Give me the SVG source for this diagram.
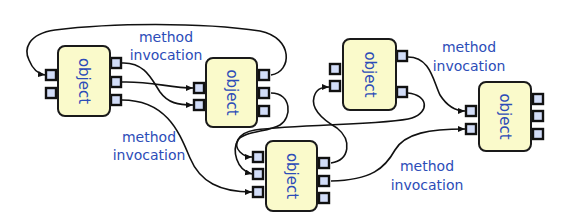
<svg xmlns="http://www.w3.org/2000/svg" width="562" height="219" viewBox="0 0 562 219">
<style>
.body{fill:#fafacb;stroke:#1a1a1a;stroke-width:2}
.port{fill:#d2ddf8;stroke:#111;stroke-width:2.4}
.lbl{font-family:"DejaVu Sans",sans-serif;font-size:15px;fill:#2c4cb8;text-anchor:middle;dominant-baseline:central}
.cap{font-family:"DejaVu Sans",sans-serif;font-size:14px;fill:#2c4cb8;text-anchor:middle}
.conn path{fill:none;stroke:#111;stroke-width:1.6;marker-end:url(#arr)}
</style>
<defs>
<marker id="arr" markerUnits="userSpaceOnUse" markerWidth="8" markerHeight="7" refX="7" refY="3" orient="auto">
<path d="M0,0 L7,3 L0,6 z" fill="#111"/>
</marker>
</defs>
<rect width="562" height="219" fill="#fff"/>
<g id="connectors" class="conn">
<path d="M271,75 C292,72 294,38 260,31 C200,22 110,23 55,30 C27,34 24,50 29,60 C33,70 38,74 45,75"/>
<path d="M122,63 C145,62 152,80 160,92 C168,103 178,105 193,105"/>
<path d="M122,82 C150,81 170,88 193,88"/>
<path d="M122,100 C168,100 180,135 190,158 C200,182 220,192 252,192"/>
<path d="M271,93 C292,93 292,118 280,125 C268,132 245,131 238,140 C232,150 236,170 252,174"/>
<path d="M408,93 C428,95 430,112 412,118 C390,125 300,124 255,130 C237,133 233,145 240,152 C243,155 247,157 252,157"/>
<path d="M331,163 C350,160 352,140 337,128 C320,118 311,108 314,97 C316,90 320,87 329,87"/>
<path d="M331,181 C372,180 385,168 395,150 C405,133 430,129 465,129"/>
<path d="M408,57 C430,57 433,80 440,95 C447,106 455,111 465,111"/>
</g>
<g id="labels">
<text class="cap" x="166" y="42">method</text>
<text class="cap" x="166" y="60">invocation</text>
<text class="cap" x="149" y="142">method</text>
<text class="cap" x="149" y="160">invocation</text>
<text class="cap" x="469" y="52">method</text>
<text class="cap" x="469" y="71">invocation</text>
<text class="cap" x="427" y="171">method</text>
<text class="cap" x="427" y="190">invocation</text>
</g>
<g id="objA">
<rect class="port" x="46" y="70" width="10" height="10"/>
<rect class="port" x="46" y="88" width="10" height="10"/>
<rect class="port" x="111" y="58" width="10" height="10"/>
<rect class="port" x="111" y="77" width="10" height="10"/>
<rect class="port" x="111" y="95" width="10" height="10"/>
<rect class="body" x="58" y="46" width="52" height="70" rx="7"/>
<text class="lbl" transform="translate(84,81) rotate(90)">object</text>
</g>
<g id="objB">
<rect class="port" x="194" y="83" width="10" height="10"/>
<rect class="port" x="194" y="100" width="10" height="10"/>
<rect class="port" x="259" y="70" width="10" height="10"/>
<rect class="port" x="259" y="88" width="10" height="10"/>
<rect class="port" x="259" y="106" width="10" height="10"/>
<rect class="body" x="206" y="58" width="51" height="69" rx="7"/>
<text class="lbl" transform="translate(231.5,92.5) rotate(90)">object</text>
</g>
<g id="objC">
<rect class="port" x="253" y="152" width="10" height="10"/>
<rect class="port" x="253" y="169" width="10" height="10"/>
<rect class="port" x="253" y="187" width="10" height="10"/>
<rect class="port" x="319" y="158" width="10" height="10"/>
<rect class="port" x="319" y="176" width="10" height="10"/>
<rect class="port" x="319" y="193" width="10" height="10"/>
<rect class="body" x="266" y="141" width="51" height="70" rx="7"/>
<text class="lbl" transform="translate(291.5,176) rotate(90)">object</text>
</g>
<g id="objD">
<rect class="port" x="330" y="64" width="10" height="10"/>
<rect class="port" x="330" y="81" width="10" height="10"/>
<rect class="port" x="397" y="51" width="10" height="10"/>
<rect class="port" x="397" y="87" width="10" height="10"/>
<rect class="body" x="343" y="39" width="53" height="71" rx="7"/>
<text class="lbl" transform="translate(369.5,74.5) rotate(90)">object</text>
</g>
<g id="objE">
<rect class="port" x="466" y="106" width="10" height="10"/>
<rect class="port" x="466" y="124" width="10" height="10"/>
<rect class="port" x="533" y="94" width="10" height="10"/>
<rect class="port" x="533" y="111" width="10" height="10"/>
<rect class="port" x="533" y="129" width="10" height="10"/>
<rect class="body" x="479" y="82" width="52" height="69" rx="7"/>
<text class="lbl" transform="translate(505,116.5) rotate(90)">object</text>
</g>
</svg>
